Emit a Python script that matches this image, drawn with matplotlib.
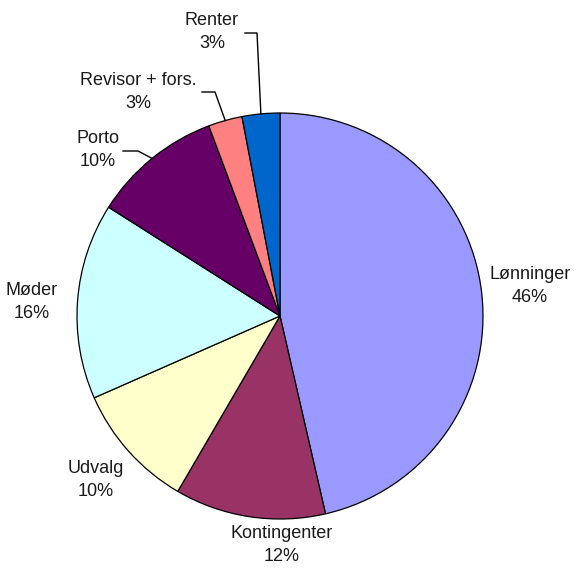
import numpy as np
import matplotlib.pyplot as plt

labels = ['Lønninger', 'Kontingenter', 'Udvalg', 'Møder', 'Porto', 'Revisor + fors.', 'Renter']
values = [46.4, 12.0, 10.0, 15.6, 10.3, 2.7, 3.0]
colors = ['#9999FF', '#993366', '#FFFFCC', '#CCFFFF', '#660066', '#FF8080', '#0066CC']

# label centres (pixel coords, y down) and leader elbows
label_pos = [(530, 286), (282, 545), (96, 480), (32, 302), (98, 150), (138, 92), (212, 32)]
elbows = {4: [(138, 151), (123, 151)], 5: [(215, 92), (202, 92)], 6: [(257, 33), (245, 33)]}

W, H = 578, 572
cx, cy, r = 280, 316, 203

plt.rcParams['font.family'] = ['Liberation Sans', 'DejaVu Sans']
fig = plt.figure(figsize=(W / 100, H / 100), dpi=100)
ax = fig.add_axes([0, 0, 1, 1])
ax.set_xlim(0, W)
ax.set_ylim(0, H)
ax.set_aspect('equal')
ax.axis('off')

wedges, _ = ax.pie(values, colors=colors, startangle=90, counterclock=False,
                   center=(cx, H - cy), radius=r,
                   wedgeprops=dict(edgecolor='black', linewidth=0.9))
ax.set_xlim(0, W)
ax.set_ylim(0, H)

total = sum(values)
for i, (lab, v) in enumerate(zip(labels, values)):
    x, y = label_pos[i]
    ax.text(x, H - y, f'{lab}\n{v / total * 100:.0f}%', ha='center', va='center',
            fontsize=13, linespacing=1.4, color='#1a1a1a')
    if i in elbows:
        w = wedges[i]
        mid = np.deg2rad((w.theta1 + w.theta2) / 2)
        sx = cx + r * np.cos(mid)
        sy = H - cy + r * np.sin(mid)
        pts = [(sx, sy)] + [(px, H - py) for px, py in elbows[i]]
        ax.plot([p[0] for p in pts], [p[1] for p in pts], color='black', lw=1)

fig.savefig('out.png', dpi=100)
